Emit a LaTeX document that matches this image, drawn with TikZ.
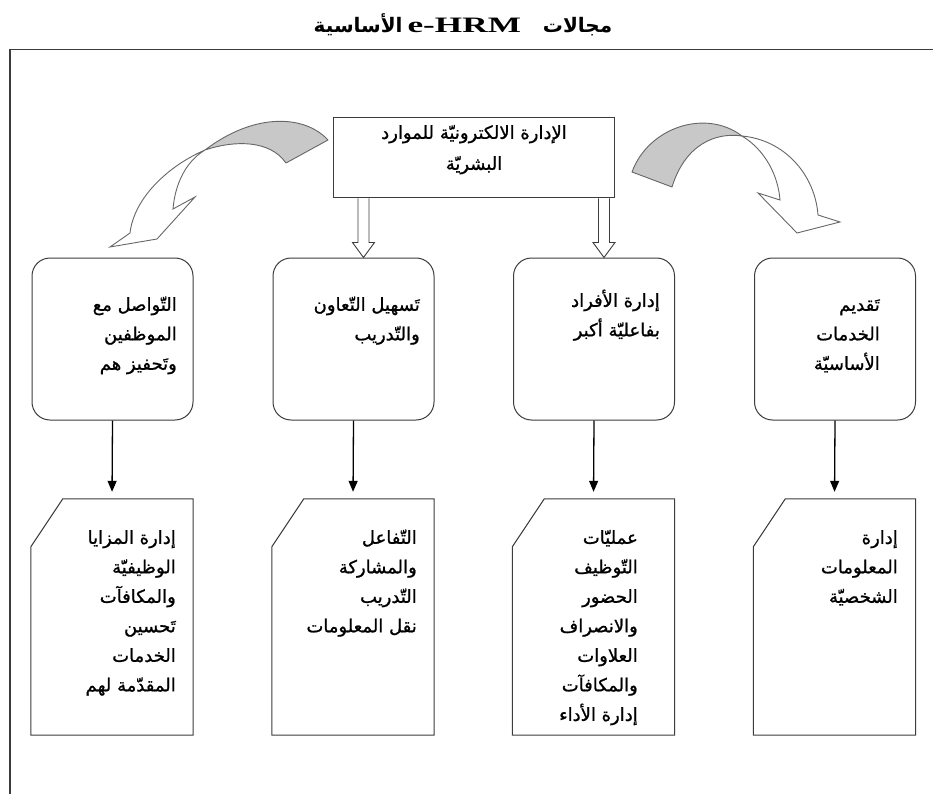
\documentclass[tikz,border=0pt]{standalone}
\usepackage{fontspec}
\setmainfont{Liberation Serif}
\newfontfamily\arabicfont[Script=Arabic,FakeBold=1]{DejaVu Sans}
\newfontfamily\arabictitle[Script=Arabic]{DejaVu Sans Bold}
\newfontfamily\latintitle[FakeStretch=1.6]{Liberation Serif Bold}
\TeXXeTstate=1
\usetikzlibrary{arrows.meta,calc}

% one right-to-left line of Arabic text
\newcommand\arln[1]{\strut\beginR #1\endR}

\definecolor{ribbongray}{RGB}{200,200,200}
\definecolor{edge}{RGB}{60,60,60}

\begin{document}
\begin{tikzpicture}[x=1pt,y=-1pt,
  frame/.style={draw=edge,line width=1.4pt},
  mainbox/.style={draw=edge,line width=1pt,minimum width=281pt,minimum height=80pt,inner sep=0pt},
  areabox/.style={draw=edge,line width=1pt,rounded corners=18pt,minimum width=161pt,minimum height=162pt,inner sep=0pt},
  cardbox/.style={minimum width=162pt,minimum height=236pt,inner sep=0pt},
  cardline/.style={draw=edge,line width=1pt,line join=miter},
  artext/.style={font=\arabicfont\fontsize{18}{29.5}\selectfont,align=right,inner sep=0pt,anchor=north east},
  toptext/.style={font=\arabicfont\fontsize{18}{31}\selectfont,align=center,inner sep=0pt,anchor=north},
  hollowarrow/.style={draw=edge,fill=white,line width=0.9pt,line join=miter},
  downarrow/.style={draw=black,line width=1.3pt,-{Triangle[width=9pt,length=11pt]},shorten >=7pt},
  ribbonback/.style={draw=black!60,fill=ribbongray,line width=0.9pt,line join=round},
  ribbonfront/.style={draw=black!60,fill=white,line width=0.9pt,line join=miter},
]
\useasboundingbox (0,0) rectangle (933,794);

% heading and page frame
\node (title) at (463,25) {\arabictitle\fontsize{20}{24}\selectfont
  \beginR مجالات\hspace{22pt}\beginL{\latintitle\fontsize{22}{24}\selectfont e-HRM}\endL\hspace{5pt}الأساسية\endR};
\draw[frame] (933,49.5) -- (10,49.5) -- (10,794);

% central box
\node[mainbox] (hrm) at (473.5,158) {};
\node[toptext] (hrmtext) at (474,117) {\arln{الإدارة الالكترونيّة للموارد}\\\arln{البشريّة}};

% the four areas
\node[areabox] (b1) at (112.5,339) {};
\node[areabox] (b2) at (353.5,339) {};
\node[areabox] (b3) at (594,339) {};
\node[areabox] (b4) at (835,339) {};

\node[artext] (b1t) at (177,290) {\arln{التّواصل مع}\\\arln{الموظفين}\\\arln{وتَحفيز هم}};
\node[artext] (b2t) at (420,290) {\arln{تَسهيل التّعاون}\\\arln{والتّدريب}};
\node[artext] (b3t) at (660,286) {\arln{إدارة الأفراد}\\\arln{بفاعليّة أكبر}};
\node[artext] (b4t) at (880,290) {\arln{تَقديم}\\\arln{الخدمات}\\\arln{الأساسيّة}};

% detail cards with a cut corner
\foreach \n/\cx in {c1/112, c2/353, c3/593.5, c4/834.5}{
  \node[cardbox] (\n) at (\cx,617) {};
  \draw[cardline] ([xshift=32pt]\n.north west) -- (\n.north east) -- (\n.south east)
     -- (\n.south west) -- ([yshift=-48pt]\n.north west) -- cycle;
}

\node[artext] (c1t) at (176,523) {\arln{إدارة المزايا}\\\arln{الوظيفيّة}\\\arln{والمكافآت}\\\arln{تَحسين}\\\arln{الخدمات}\\\arln{المقدّمة لهم}};
\node[artext] (c2t) at (417,523) {\arln{التّفاعل}\\\arln{والمشاركة}\\\arln{التّدريب}\\\arln{نقل المعلومات}};
\node[artext] (c3t) at (638,523) {\arln{عمليّات}\\\arln{التّوظيف}\\\arln{الحضور}\\\arln{والانصراف}\\\arln{العلاوات}\\\arln{والمكافآت}\\\arln{إدارة الأداء}};
\node[artext] (c4t) at (898,523) {\arln{إدارة}\\\arln{المعلومات}\\\arln{الشخصيّة}};

% hollow block arrows from the central box
\foreach \tgt in {b2,b3}{
  \draw[hollowarrow] let \p1=([xshift=10pt]\tgt.north |- hrm.south), \p2=([xshift=10pt]\tgt.north) in
    (\x1-5.5pt,\y1) -- (\x1-5.5pt,\y2+15pt) -- (\x1-11pt,\y2+15pt) -- (\x2,\y2)
    -- (\x1+11pt,\y2+15pt) -- (\x1+5.5pt,\y2+15pt) -- (\x1+5.5pt,\y1);
}

% solid arrows from each area to its card
\foreach \i in {1,2,3,4}{
  \draw[downarrow] (b\i.south) -- (c\i.north);
}

% twisted curved arrow on the left
\filldraw[ribbonback] (328,140) .. controls (305,115) and (255,112) .. (205,150)
   .. controls (235,140) and (270,140) .. (286,163) -- cycle;
\filldraw[ribbonfront] (205,150) .. controls (168,166) and (134,198) .. (130,233)
   -- (110,247) -- (157,239) -- (195,197) -- (173,209)
   .. controls (175,185) and (185,162) .. (205,150) -- cycle;

% twisted curved arrow on the right
\filldraw[ribbonback] (632,172) .. controls (648,128) and (705,108) .. (742,136)
   .. controls (715,132) and (685,145) .. (672,187) -- cycle;
\filldraw[ribbonfront] (742,136) .. controls (785,140) and (815,175) .. (818,215)
   -- (840,222) -- (797,233) -- (758,193) -- (780,200)
   .. controls (778,175) and (765,150) .. (742,136) -- cycle;
\end{tikzpicture}
\end{document}
